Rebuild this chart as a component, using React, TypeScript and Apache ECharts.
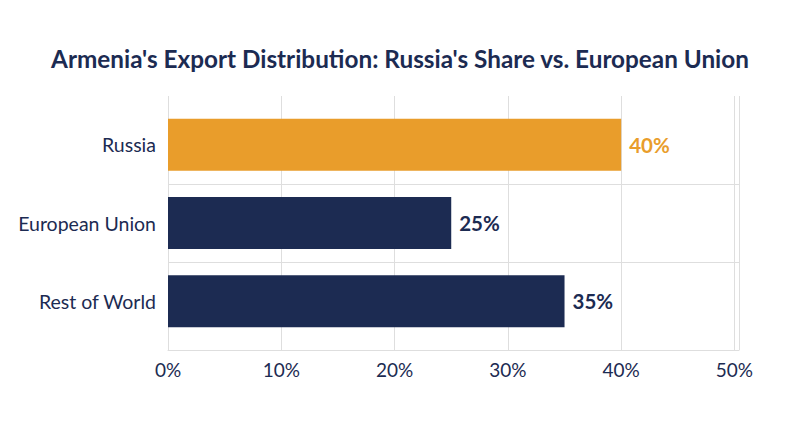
import React, { useEffect, useRef } from "react";
import * as echarts from "echarts";

const titleText = "Armenia's Export Distribution: Russia's Share vs. European Union";
const categories = ["Russia", "European Union", "Rest of World"];
const shares = [40, 25, 35];
const barColors = ["#E99D2B", "#1C2B52", "#1C2B52"];
const tickStep = 10;
const axisMax = 50.4;

const NAVY = "#1C2B52";
const GRID_LINE = "#DEDEDE";
const FONT = "Lato, 'Noto Sans', sans-serif";

export default function App() {
  const ref = useRef<HTMLDivElement>(null);
  useEffect(() => {
    if (!ref.current) return;
    const chart = echarts.init(ref.current, null, { renderer: "svg" });
    chart.setOption({
      animation: false,
      backgroundColor: "#ffffff",
      textStyle: { fontFamily: FONT },
      title: {
        text: titleText,
        left: "center",
        top: 41,
        textStyle: { fontFamily: FONT, fontSize: 24.3, fontWeight: "bold", color: NAVY },
      },
      grid: [
        { left: 168, right: 61, top: 96, bottom: 97, containLabel: false },
        { left: 168, right: 61, top: 105.5, bottom: 106.5, containLabel: false },
      ],
      xAxis: [
        {
          type: "value",
          gridIndex: 0,
          min: 0,
          max: axisMax,
          interval: tickStep,
          axisLine: { show: true, lineStyle: { color: GRID_LINE, width: 1 } },
          axisTick: { show: false },
          splitLine: { show: true, lineStyle: { color: GRID_LINE, width: 1 } },
          axisLabel: {
            margin: 10,
            fontFamily: FONT,
            fontSize: 19,
            color: NAVY,
            formatter: (v: number) => (Math.abs(v % tickStep) < 1e-6 ? `${v}%` : ""),
          },
        },
        {
          type: "value",
          gridIndex: 1,
          min: 0,
          max: axisMax,
          show: false,
          splitLine: { show: false },
        },
      ],
      yAxis: [
        {
          type: "value",
          gridIndex: 0,
          show: false,
          splitLine: { show: false },
        },
        {
          type: "category",
          gridIndex: 1,
          data: categories,
          inverse: true,
          axisLine: { show: false },
          axisTick: { show: false },
          splitLine: {
            show: true,
            lineStyle: { color: ["transparent", GRID_LINE, GRID_LINE, "transparent"], width: 1 },
          },
          axisLabel: {
            margin: 12,
            fontFamily: FONT,
            fontSize: 19.5,
            color: NAVY,
          },
        },
      ],
      series: [
        {
          type: "bar",
          xAxisIndex: 1,
          yAxisIndex: 1,
          barWidth: 52,
          data: shares.map((v, i) => ({
            value: v,
            itemStyle: { color: barColors[i] },
            label: { color: barColors[i] },
          })),
          label: {
            show: true,
            position: "right",
            distance: 8,
            fontFamily: FONT,
            fontSize: 20.5,
            fontWeight: "bold",
            formatter: "{c}%",
          },
        },
      ],
    });
    return () => chart.dispose();
  }, []);
  return <div ref={ref} style={{ width: 800, height: 447, position: "absolute", left: 0, top: 0 }} />;
}
